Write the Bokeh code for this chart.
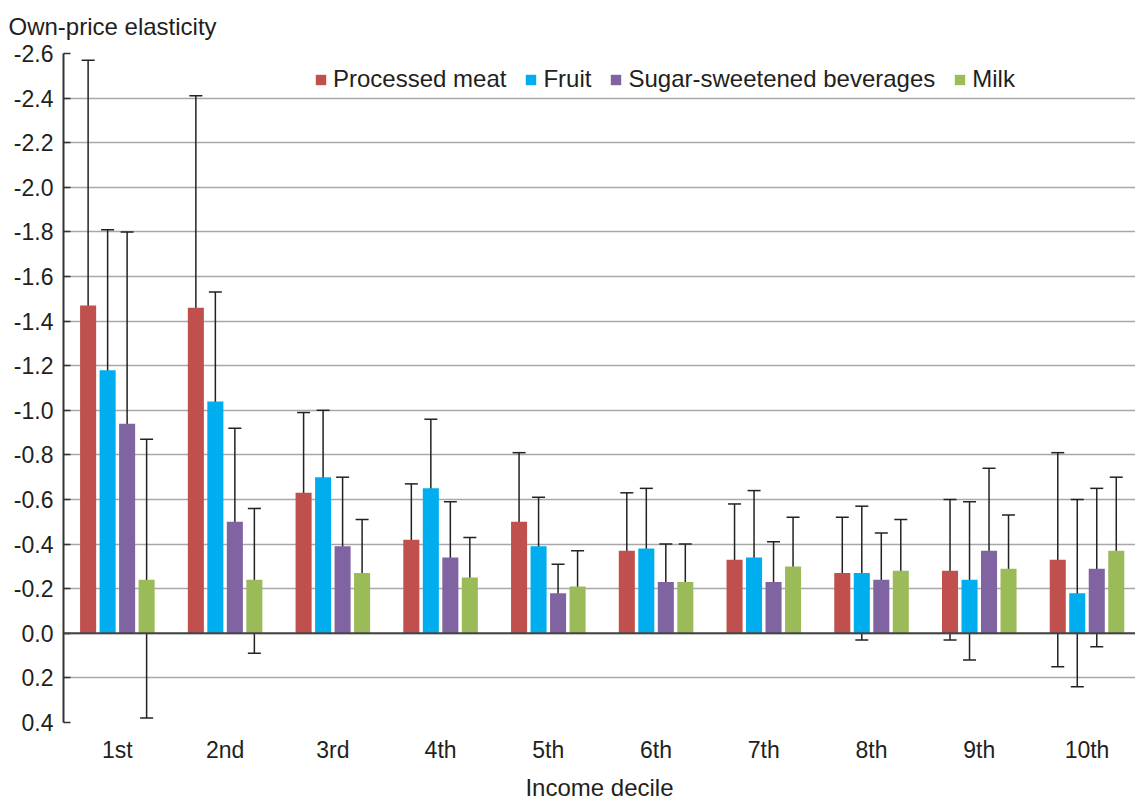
from bokeh.plotting import figure
from bokeh.models import (Range1d, FixedTicker, PrintfTickFormatter, ColumnDataSource,
                          Whisker, TeeHead, Span, Legend, LegendItem)
from bokeh.embed import file_html
from bokeh.resources import INLINE

deciles = ["1st", "2nd", "3rd", "4th", "5th", "6th", "7th", "8th", "9th", "10th"]
series_names = ["Processed meat", "Fruit", "Sugar-sweetened beverages", "Milk"]
series_colors = ["#C0504D", "#00AEEF", "#8064A2", "#9BBB59"]

meat = [-1.47, -1.46, -0.63, -0.42, -0.50, -0.37, -0.33, -0.27, -0.28, -0.33]
meat_hi = [-2.57, -2.41, -0.99, -0.67, -0.81, -0.63, -0.58, -0.52, -0.60, -0.81]
meat_lo = [-0.37, -0.51, -0.26, -0.18, -0.19, -0.12, -0.08, -0.02, 0.03, 0.15]

fruit = [-1.18, -1.04, -0.70, -0.65, -0.39, -0.38, -0.34, -0.27, -0.24, -0.18]
fruit_hi = [-1.81, -1.53, -1.00, -0.96, -0.61, -0.65, -0.64, -0.57, -0.59, -0.60]
fruit_lo = [-0.54, -0.55, -0.40, -0.34, -0.16, -0.12, -0.05, 0.03, 0.12, 0.24]

ssb = [-0.94, -0.50, -0.39, -0.34, -0.18, -0.23, -0.23, -0.24, -0.37, -0.29]
ssb_hi = [-1.80, -0.92, -0.70, -0.59, -0.31, -0.40, -0.41, -0.45, -0.74, -0.65]
ssb_lo = [-0.08, -0.08, -0.09, -0.09, -0.05, -0.06, -0.05, -0.04, -0.01, 0.06]

milk = [-0.24, -0.24, -0.27, -0.25, -0.21, -0.23, -0.30, -0.28, -0.29, -0.37]
milk_hi = [-0.87, -0.56, -0.51, -0.43, -0.37, -0.40, -0.52, -0.51, -0.53, -0.70]
milk_lo = [0.38, 0.09, -0.03, -0.06, -0.06, -0.06, -0.07, -0.06, -0.05, -0.04]

y_ticks = [-2.6, -2.4, -2.2, -2.0, -1.8, -1.6, -1.4, -1.2, -1.0, -0.8, -0.6, -0.4, -0.2, 0.0, 0.2, 0.4]
y_title = "Own-price elasticity"
x_title = "Income decile"

values = [meat, fruit, ssb, milk]
his = [meat_hi, fruit_hi, ssb_hi, milk_hi]
los = [meat_lo, fruit_lo, ssb_lo, milk_lo]

FONT = "Liberation Sans"
TXT = "#231f20"

p = figure(width=1135, height=800, frame_width=1072, frame_height=669,
           x_range=Range1d(0, 9.95), y_range=Range1d(0.4, -2.6),
           output_backend="svg", toolbar_location=None,
           min_border_left=63, min_border_right=0, min_border_top=0, min_border_bottom=0)
p.outline_line_color = None
p.background_fill_color = "white"

p.title.text = y_title
p.title.align = "left"
p.title.vertical_align = "top"
p.title.offset = -55
p.title.text_font = FONT
p.title.text_font_style = "normal"
p.title.text_font_size = "24px"
p.title.text_color = TXT
p.title.standoff = 24

p.xgrid.grid_line_color = None
p.ygrid.grid_line_color = "#a8a8a8"
p.ygrid.grid_line_width = 1.3

p.yaxis.ticker = FixedTicker(ticks=y_ticks)
p.yaxis.formatter = PrintfTickFormatter(format="%.1f")
p.yaxis.axis_line_color = "#333333"
p.yaxis.axis_line_width = 2
p.yaxis.major_tick_in = 7
p.yaxis.major_tick_out = 0
p.yaxis.major_tick_line_color = "#333333"
p.yaxis.major_tick_line_width = 1.5
p.yaxis.minor_tick_line_color = None
p.yaxis.major_label_text_font = FONT
p.yaxis.major_label_text_font_size = "23px"
p.yaxis.major_label_text_color = TXT
p.yaxis.major_label_standoff = 10

p.xaxis.ticker = FixedTicker(ticks=[i + 0.5 for i in range(len(deciles))])
p.xaxis.major_label_overrides = {i + 0.5: d for i, d in enumerate(deciles)}
p.xaxis.axis_line_color = None
p.xaxis.major_tick_line_color = None
p.xaxis.minor_tick_line_color = None
p.xaxis.major_label_text_font = FONT
p.xaxis.major_label_text_font_size = "23px"
p.xaxis.major_label_text_color = TXT
p.xaxis.major_label_standoff = 8
p.xaxis.axis_label = x_title
p.xaxis.axis_label_text_font = FONT
p.xaxis.axis_label_text_font_style = "normal"
p.xaxis.axis_label_text_font_size = "24px"
p.xaxis.axis_label_text_color = TXT
p.xaxis.axis_label_standoff = 8

p.add_layout(Span(location=0, dimension="width", line_color="#444444", line_width=2))

pitch = 0.181
width = 0.149
items = []
for k, (name, color) in enumerate(zip(series_names, series_colors)):
    xs = [i + 0.5 + (k - 1.5) * pitch for i in range(len(deciles))]
    src = ColumnDataSource(dict(x=xs, top=values[k], upper=his[k], lower=los[k]))
    r = p.vbar(x="x", top="top", bottom=0, width=width, source=src,
               fill_color=color, line_color=None)
    items.append(LegendItem(label=name, renderers=[r]))
    w = Whisker(source=src, base="x", upper="upper", lower="lower", dimension="height",
                line_color="#222222", line_width=1.5,
                upper_head=TeeHead(size=13, line_color="#222222", line_width=1.5),
                lower_head=TeeHead(size=13, line_color="#222222", line_width=1.5))
    p.add_layout(w)

legend = Legend(items=items, orientation="horizontal", location=(251, 629),
                glyph_width=13, glyph_height=13, label_standoff=6, spacing=18,
                padding=0, margin=0, border_line_color=None, background_fill_alpha=0,
                label_text_font=FONT, label_text_font_size="24px", label_text_color=TXT)
p.add_layout(legend, "center")

open("out.html", "w").write(file_html(p, INLINE))
